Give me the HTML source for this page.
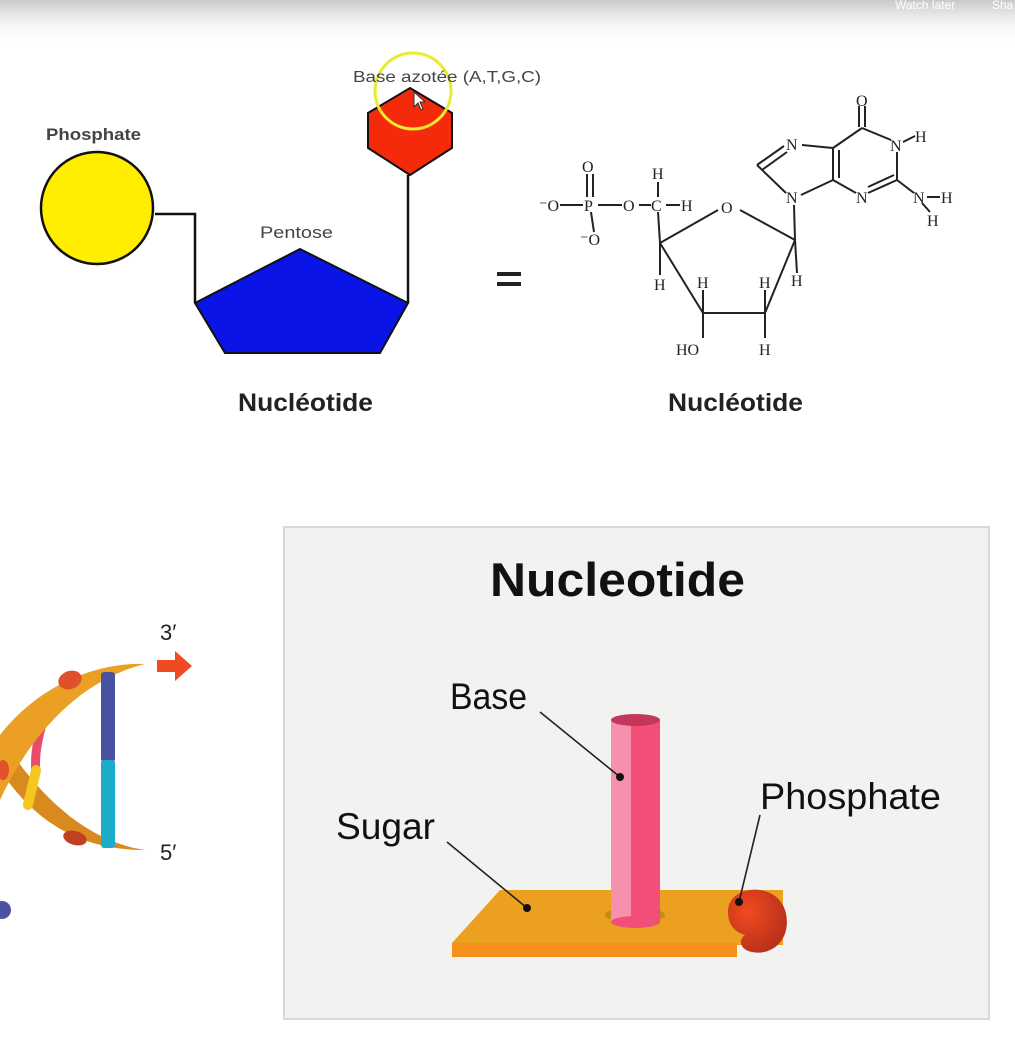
<!DOCTYPE html>
<html><head><meta charset="utf-8"><style>
html,body{margin:0;padding:0;background:#fff;}
svg{display:block;}
text{font-family:"Liberation Sans",sans-serif;}
.ch text{font-family:"Liberation Serif",serif;font-size:16px;fill:#222;}
</style></head><body>
<svg width="1015" height="1055" viewBox="0 0 1015 1055" xmlns="http://www.w3.org/2000/svg">
<defs>
<linearGradient id="top" x1="0" y1="0" x2="0" y2="1">
<stop offset="0" stop-color="#c8c8c8"/><stop offset="1" stop-color="#ffffff" stop-opacity="0"/>
</linearGradient>
<radialGradient id="ph" cx="0.35" cy="0.35" r="0.7">
<stop offset="0" stop-color="#f04a20"/><stop offset="1" stop-color="#b8301a"/>
</radialGradient>
</defs>
<rect x="0" y="0" width="1015" height="1055" fill="#fff"/>
<rect x="0" y="0" width="1015" height="45" fill="url(#top)"/>
<text x="895" y="9" font-size="12" fill="#fff">Watch later</text>
<text x="992" y="9" font-size="12" fill="#fff">Sha</text>

<polyline points="155,214 195,214 195,303" fill="none" stroke="#111" stroke-width="2.5"/>
<line x1="408" y1="175" x2="408" y2="303" stroke="#111" stroke-width="2.5"/>
<circle cx="97" cy="208" r="56" fill="#ffee00" stroke="#111" stroke-width="2.5"/>
<polygon points="300,249 408,303 380,353 225,353 195,303" fill="#0a14e6" stroke="#111" stroke-width="2"/>
<polygon points="410,88 452,113 452,148 410,175 368,148 368,113" fill="#f52a0a" stroke="#111" stroke-width="2"/>
<circle cx="413" cy="91" r="38" fill="none" stroke="#eaea30" stroke-width="3"/>
<polygon points="414,92 414,107 418,103 421,110 423,109 420,102 425,102" fill="#fff" stroke="#333" stroke-width="1"/>
<text x="46" y="140" font-size="17" font-weight="bold" fill="#444" textLength="95" lengthAdjust="spacingAndGlyphs">Phosphate</text>
<text x="260" y="238" font-size="17" fill="#444" textLength="73" lengthAdjust="spacingAndGlyphs">Pentose</text>
<text x="353" y="82" font-size="16" fill="#444" textLength="188" lengthAdjust="spacingAndGlyphs">Base azotée (A,T,G,C)</text>
<text x="238" y="411" font-size="25" font-weight="bold" fill="#222" textLength="135" lengthAdjust="spacingAndGlyphs">Nucléotide</text>
<rect x="497" y="272" width="24" height="4" fill="#222"/>
<rect x="497" y="282" width="24" height="4" fill="#222"/>
<text x="668" y="411" font-size="25" font-weight="bold" fill="#222" textLength="135" lengthAdjust="spacingAndGlyphs">Nucléotide</text>

<g stroke="#222" stroke-width="2" fill="none">
<line x1="560" y1="205" x2="583" y2="205"/>
<line x1="598" y1="205" x2="622" y2="205"/>
<line x1="639" y1="205" x2="651" y2="205"/>
<line x1="666" y1="205" x2="680" y2="205"/>
<line x1="658" y1="182" x2="658" y2="197"/>
<line x1="587" y1="174" x2="587" y2="197"/>
<line x1="593" y1="174" x2="593" y2="197"/>
<line x1="591" y1="212" x2="594" y2="232"/>
<line x1="658" y1="212" x2="660" y2="243"/>
<line x1="660" y1="243" x2="718" y2="210"/>
<line x1="740" y1="210" x2="795" y2="240"/>
<line x1="660" y1="243" x2="703" y2="313"/>
<line x1="703" y1="313" x2="765" y2="313"/>
<line x1="765" y1="313" x2="795" y2="240"/>
<line x1="660" y1="243" x2="660" y2="275"/>
<line x1="703" y1="313" x2="703" y2="290"/>
<line x1="703" y1="313" x2="703" y2="338"/>
<line x1="765" y1="313" x2="765" y2="290"/>
<line x1="765" y1="313" x2="765" y2="338"/>
<line x1="795" y1="240" x2="797" y2="273"/>
<line x1="795" y1="240" x2="794" y2="205"/>
<line x1="786" y1="193" x2="757" y2="165"/>
<line x1="757" y1="165" x2="784" y2="146"/>
<line x1="762" y1="170" x2="787" y2="152"/>
<line x1="802" y1="145" x2="833" y2="148"/>
<line x1="833" y1="148" x2="833" y2="180"/>
<line x1="839" y1="150" x2="839" y2="178"/>
<line x1="833" y1="180" x2="801" y2="195"/>
<line x1="833" y1="180" x2="856" y2="193"/>
<line x1="868" y1="193" x2="897" y2="180"/>
<line x1="868" y1="187" x2="894" y2="175"/>
<line x1="897" y1="180" x2="897" y2="152"/>
<line x1="891" y1="140" x2="862" y2="128"/>
<line x1="862" y1="128" x2="833" y2="148"/>
<line x1="859" y1="127" x2="859" y2="106"/>
<line x1="865" y1="127" x2="865" y2="106"/>
<line x1="903" y1="142" x2="915" y2="136"/>
<line x1="897" y1="180" x2="914" y2="193"/>
<line x1="927" y1="197" x2="940" y2="197"/>
<line x1="922" y1="203" x2="930" y2="212"/>
</g>
<g class="ch">
<text x="539" y="211">⁻O</text>
<text x="584" y="211">P</text>
<text x="582" y="172">O</text>
<text x="580" y="245">⁻O</text>
<text x="623" y="211">O</text>
<text x="651" y="211">C</text>
<text x="652" y="179">H</text>
<text x="681" y="211">H</text>
<text x="721" y="213">O</text>
<text x="654" y="290">H</text>
<text x="697" y="288">H</text>
<text x="759" y="288">H</text>
<text x="791" y="286">H</text>
<text x="676" y="355">HO</text>
<text x="759" y="355">H</text>
<text x="786" y="203">N</text>
<text x="786" y="150">N</text>
<text x="856" y="203">N</text>
<text x="890" y="151">N</text>
<text x="856" y="106">O</text>
<text x="915" y="142">H</text>
<text x="913" y="203">N</text>
<text x="941" y="203">H</text>
<text x="927" y="226">H</text>
</g>

<path d="M145,850 C90,850 40,830 0,770 L0,735 C40,800 90,842 145,850 Z" fill="#d98a1f"/>
<path d="M46,712 C38,735 34,755 36,772" stroke="#e84c6a" stroke-width="9" fill="none"/>
<path d="M36,770 C33,785 30,795 28,805" stroke="#f5c520" stroke-width="10" stroke-linecap="round" fill="none"/>
<path d="M145,664 C90,662 35,690 0,735 L0,800 C30,735 80,680 145,664 Z" fill="#eba025"/>
<ellipse cx="70" cy="680" rx="12" ry="9" fill="#e0502a" transform="rotate(-20 70 680)"/>
<ellipse cx="75" cy="838" rx="12" ry="7" fill="#c0401f" transform="rotate(15 75 838)"/>
<ellipse cx="3" cy="770" rx="6" ry="10" fill="#e0502a"/>
<rect x="101" y="672" width="14" height="90" rx="3" fill="#4a52a2"/>
<rect x="101" y="760" width="14" height="88" rx="3" fill="#1aacc8"/>
<polygon points="157,660 175,660 175,651 192,666 175,681 175,672 157,672" fill="#f04a25"/>
<text x="160" y="640" font-size="22" fill="#222">3′</text>
<text x="160" y="860" font-size="22" fill="#222">5′</text>
<circle cx="2" cy="910" r="9" fill="#4a52a2"/>

<rect x="284" y="527" width="705" height="492" fill="#f2f2f0" stroke="#d8d8d8" stroke-width="2"/>
<text x="490" y="596" font-size="47" font-weight="bold" fill="#111" textLength="255" lengthAdjust="spacingAndGlyphs">Nucleotide</text>
<polygon points="500,890 783,890 783,945 737,945 737,957 452,957 452,943" fill="#eba020"/>
<polygon points="452,943 737,943 737,957 452,957" fill="#f5901a"/>
<ellipse cx="635" cy="915" rx="30" ry="8" fill="#c8891a"/>
<rect x="611" y="720" width="49" height="202" fill="#f24f78"/>
<rect x="611" y="720" width="20" height="202" fill="#f790ad"/>
<ellipse cx="635.5" cy="922" rx="24.5" ry="6" fill="#f24f78"/>
<ellipse cx="635.5" cy="720" rx="24.5" ry="6" fill="#c2375a"/>
<path d="M728,912 C728,895 745,888 760,890 C780,893 790,910 786,930 C782,948 765,955 752,952 C740,950 738,940 745,935 C735,932 728,925 728,912 Z" fill="url(#ph)"/>
<text x="450" y="709" font-size="37" fill="#111" textLength="77" lengthAdjust="spacingAndGlyphs">Base</text>
<text x="336" y="839" font-size="37" fill="#111" textLength="99" lengthAdjust="spacingAndGlyphs">Sugar</text>
<text x="760" y="809" font-size="37" fill="#111" textLength="181" lengthAdjust="spacingAndGlyphs">Phosphate</text>
<g stroke="#222" stroke-width="1.6">
<line x1="540" y1="712" x2="620" y2="777"/>
<line x1="447" y1="842" x2="527" y2="908"/>
<line x1="760" y1="815" x2="739" y2="902"/>
</g>
<circle cx="620" cy="777" r="4" fill="#111"/>
<circle cx="527" cy="908" r="4" fill="#111"/>
<circle cx="739" cy="902" r="4" fill="#111"/>
</svg>
</body></html>
